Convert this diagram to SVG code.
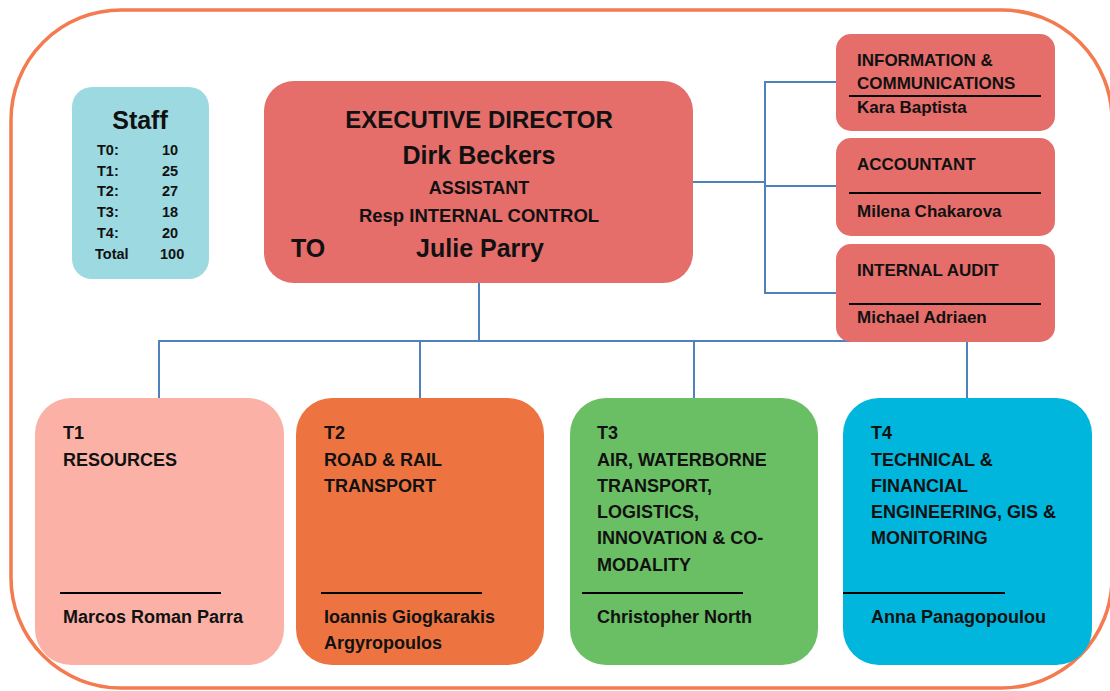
<svg xmlns="http://www.w3.org/2000/svg" width="1110" height="691" viewBox="0 0 1110 691">
<style>
text{font-family:"Liberation Sans",Arial,sans-serif;font-weight:bold;fill:#111}
.c{text-anchor:middle}
.conn{stroke:#4F81BD;stroke-width:2;fill:none}
.sep{stroke:#000;stroke-width:2}
.r{font-size:17px}
.b{font-size:18px}
.s{font-size:14.5px}
</style>
<rect x="11" y="10" width="1101" height="678" rx="110" ry="110" fill="#fff" stroke="#F47A50" stroke-width="3.5"/>
<g id="connectors">
<path class="conn" d="M479 283V341M159 398V341H967V398M420 341V398M694 341V398"/>
<path class="conn" d="M693 182H765M837 82H765V293H837M765 186H837"/>
</g>
<g id="staff">
<rect x="72" y="87" width="137" height="192" rx="20" fill="#9DD9E1"/>
<text x="140" y="129" class="c" font-size="25">Staff</text>
<text class="s" x="97" y="155">T0:</text><text class="s" x="162" y="155">10</text>
<text class="s" x="97" y="176">T1:</text><text class="s" x="162" y="176">25</text>
<text class="s" x="97" y="196">T2:</text><text class="s" x="162" y="196">27</text>
<text class="s" x="97" y="217">T3:</text><text class="s" x="162" y="217">18</text>
<text class="s" x="97" y="238">T4:</text><text class="s" x="162" y="238">20</text>
<text class="s" x="95" y="259">Total</text><text class="s" x="160" y="259">100</text>
</g>
<g id="exec">
<rect x="264" y="81" width="429" height="202" rx="30" fill="#E56D6A"/>
<text x="479" y="128" class="c" font-size="24">EXECUTIVE DIRECTOR</text>
<text x="479" y="164" class="c" font-size="25">Dirk Beckers</text>
<text x="479" y="194" class="c" font-size="18">ASSISTANT</text>
<text x="479" y="222" class="c" font-size="18.5">Resp INTERNAL CONTROL</text>
<text x="291" y="257" font-size="25">TO</text>
<text x="480" y="257" class="c" font-size="25">Julie Parry</text>
</g>
<g id="info">
<rect x="836" y="34" width="219" height="97" rx="15" fill="#E56D6A"/>
<text class="r" x="857" y="66">INFORMATION &amp;</text>
<text class="r" x="857" y="89">COMMUNICATIONS</text>
<line class="sep" x1="849" y1="96" x2="1041" y2="96"/>
<text class="r" x="857" y="113">Kara Baptista</text>
</g>
<g id="accountant">
<rect x="836" y="138" width="219" height="98" rx="15" fill="#E56D6A"/>
<text class="r" x="857" y="170">ACCOUNTANT</text>
<line class="sep" x1="849" y1="193" x2="1041" y2="193"/>
<text class="r" x="857" y="217">Milena Chakarova</text>
</g>
<g id="audit">
<rect x="836" y="244" width="219" height="98" rx="15" fill="#E56D6A"/>
<text class="r" x="857" y="276">INTERNAL AUDIT</text>
<line class="sep" x1="849" y1="304" x2="1041" y2="304"/>
<text class="r" x="857" y="323">Michael Adriaen</text>
</g>
<g id="t1">
<rect x="35" y="398" width="249" height="267" rx="36" fill="#FBB1A6"/>
<text class="b" x="63" y="439">T1</text>
<text class="b" x="63" y="466">RESOURCES</text>
<line class="sep" x1="60" y1="593" x2="221" y2="593"/>
<text class="b" x="63" y="623">Marcos Roman Parra</text>
</g>
<g id="t2">
<rect x="296" y="398" width="248" height="267" rx="36" fill="#ED7441"/>
<text class="b" x="324" y="439">T2</text>
<text class="b" x="324" y="466">ROAD &amp; RAIL</text>
<text class="b" x="324" y="492">TRANSPORT</text>
<line class="sep" x1="321" y1="593" x2="482" y2="593"/>
<text class="b" x="324" y="623">Ioannis Giogkarakis</text>
<text class="b" x="324" y="649">Argyropoulos</text>
</g>
<g id="t3">
<rect x="570" y="398" width="248" height="267" rx="36" fill="#6ABF64"/>
<text class="b" x="597" y="439">T3</text>
<text class="b" x="597" y="466">AIR, WATERBORNE</text>
<text class="b" x="597" y="492">TRANSPORT,</text>
<text class="b" x="597" y="518">LOGISTICS,</text>
<text class="b" x="597" y="544">INNOVATION &amp; CO-</text>
<text class="b" x="597" y="571">MODALITY</text>
<line class="sep" x1="582" y1="593" x2="743" y2="593"/>
<text class="b" x="597" y="623">Christopher North</text>
</g>
<g id="t4">
<rect x="843" y="398" width="249" height="267" rx="36" fill="#00B6DD"/>
<text class="b" x="871" y="439">T4</text>
<text class="b" x="871" y="466">TECHNICAL &amp;</text>
<text class="b" x="871" y="492">FINANCIAL</text>
<text class="b" x="871" y="518">ENGINEERING, GIS &amp;</text>
<text class="b" x="871" y="544">MONITORING</text>
<line class="sep" x1="843" y1="593" x2="1005" y2="593"/>
<text class="b" x="871" y="623">Anna Panagopoulou</text>
</g>
</svg>
